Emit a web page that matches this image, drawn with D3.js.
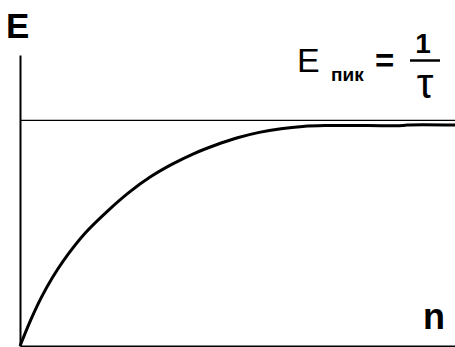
<!DOCTYPE html>
<html>
<head>
<meta charset="utf-8">
<script src="https://cdn.jsdelivr.net/npm/d3@7"></script>
<style>
  html, body { margin: 0; padding: 0; background: #fff; }
  svg text { font-family: "Liberation Sans", Arial, sans-serif; fill: #000; }
</style>
</head>
<body>
<svg id="chart" width="455" height="347"></svg>
<script>
// saturation curve E(n) (E in units of 1/tau)
const nValues = [0, 0.25, 0.5, 0.75, 1, 1.5, 2, 2.5, 3, 3.5, 4, 4.5, 5, 5.5, 6, 6.5, 7, 8, 8.8, 8.9, 10];
const eValues = [0, 0.117, 0.219, 0.305, 0.379, 0.501, 0.596, 0.68, 0.75, 0.806, 0.853, 0.891, 0.923, 0.947, 0.963, 0.973, 0.977, 0.977, 0.977, 0.98, 0.98];
const ePeak = 1;
const nDomain = [0, 10];
const eDomain = [0, 1.29];

const svg = d3.select("#chart");

const x = d3.scaleLinear().domain(nDomain).range([20, 455]);
const y = d3.scaleLinear().domain(eDomain).range([346, 55]);

// axes, no ticks
svg.append("g")
  .attr("transform", "translate(20,0)")
  .call(d3.axisLeft(y).ticks(0).tickSizeOuter(0))
  .call((g) => g.select(".domain").attr("stroke", "#000").attr("stroke-width", 2));

svg.append("g")
  .attr("transform", "translate(0,346)")
  .call(d3.axisBottom(x).ticks(0).tickSizeOuter(0))
  .call((g) => g.select(".domain").attr("stroke", "#000").attr("stroke-width", 2));

// asymptote E = 1/tau
svg.append("line")
  .attr("x1", x(nDomain[0]))
  .attr("x2", x(nDomain[1]))
  .attr("y1", y(ePeak))
  .attr("y2", y(ePeak))
  .attr("stroke", "#000")
  .attr("stroke-width", 1.2);

// the curve
const data = nValues.map((n, i) => ({ n: n, e: eValues[i] }));
const line = d3.line()
  .x((d) => x(d.n))
  .y((d) => y(d.e))
  .curve(d3.curveCatmullRom.alpha(0.5));

svg.append("path")
  .datum(data)
  .attr("fill", "none")
  .attr("stroke", "#000")
  .attr("stroke-width", 3)
  .attr("d", line);

// axis labels
svg.append("text")
  .attr("x", 6)
  .attr("y", 38)
  .attr("font-size", 35)
  .attr("font-weight", "bold")
  .text("E");

svg.append("text")
  .attr("x", 423)
  .attr("y", 329)
  .attr("font-size", 36)
  .attr("font-weight", "bold")
  .text("n");

// formula E пик = 1/τ
svg.append("text")
  .attr("x", 297)
  .attr("y", 72)
  .attr("font-size", 34)
  .text("E");

svg.append("text")
  .attr("x", 331)
  .attr("y", 81)
  .attr("font-size", 19)
  .attr("font-weight", "bold")
  .text("пик");

svg.append("text")
  .attr("x", 375)
  .attr("y", 72)
  .attr("font-size", 33)
  .attr("font-weight", "bold")
  .text("=");

svg.append("text")
  .attr("x", 423)
  .attr("y", 53)
  .attr("font-size", 28)
  .attr("font-weight", "bold")
  .attr("text-anchor", "middle")
  .text("1");

svg.append("line")
  .attr("x1", 410)
  .attr("x2", 440)
  .attr("y1", 60.5)
  .attr("y2", 60.5)
  .attr("stroke", "#000")
  .attr("stroke-width", 2.5);

svg.append("text")
  .attr("x", 425)
  .attr("y", 98)
  .attr("font-size", 42)
  .attr("text-anchor", "middle")
  .text("τ");
</script>
</body>
</html>
